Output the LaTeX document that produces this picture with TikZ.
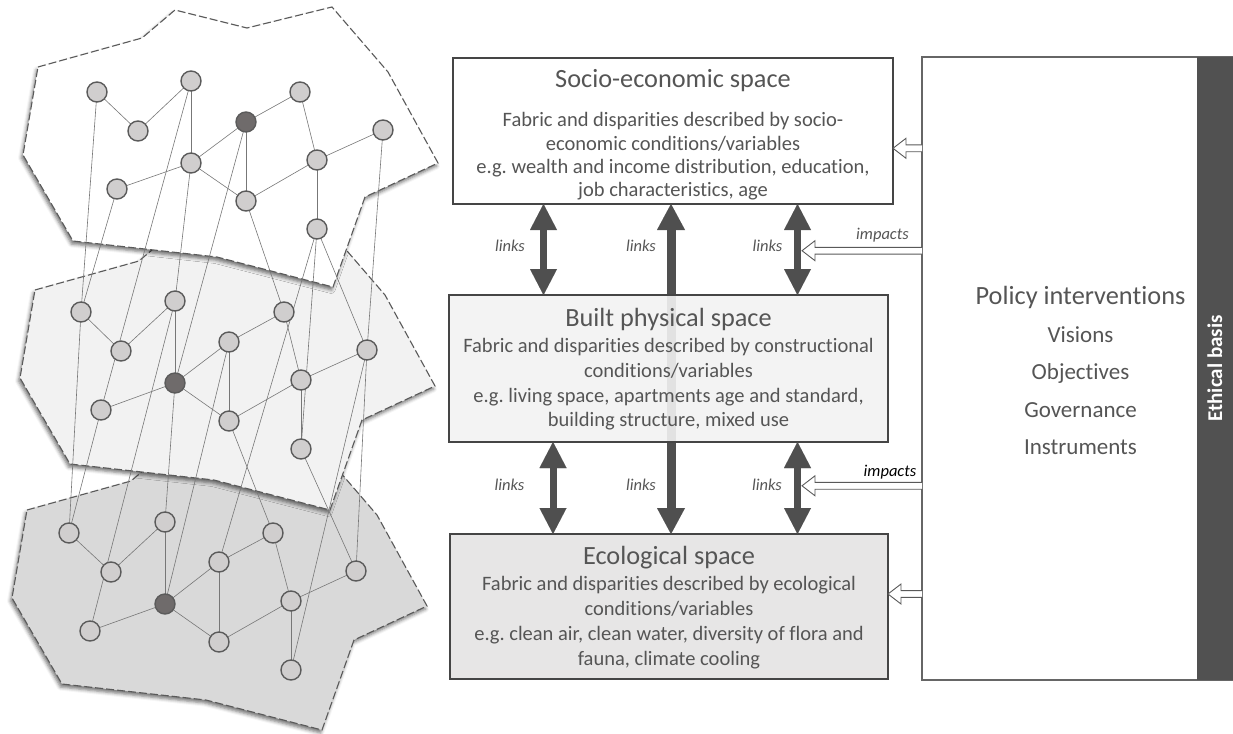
\documentclass[tikz,border=0pt]{standalone}
\usepackage{fontspec}
\setmainfont{Carlito}[Ligatures=NoCommon]
\frenchspacing
\usetikzlibrary{arrows.meta,calc,shadows.blur}

\pgfdeclarelayer{planes}
\pgfdeclarelayer{wires}
\pgfsetlayers{planes,wires,main}

\definecolor{txt}{HTML}{555555}
\definecolor{linkc}{HTML}{4F4F4F}
\definecolor{band}{HTML}{515151}
\definecolor{planeedge}{HTML}{5A5A5A}
\definecolor{wire}{HTML}{777777}
\definecolor{nodefill}{HTML}{D0CECE}
\definecolor{nodedark}{HTML}{6F6B6B}
\definecolor{nodeedge}{HTML}{5B5B5B}
\definecolor{midfill}{HTML}{F2F2F2}
\definecolor{lowfill}{HTML}{D9D9D9}
\definecolor{boxedge}{HTML}{454545}
\definecolor{builtfill}{HTML}{F2F2F2}
\definecolor{ecofill}{HTML}{E7E6E6}
\definecolor{impactedge}{HTML}{595959}
\definecolor{policyedge}{HTML}{666666}

% one dashed plane of the layered network, shifted by (#1,#2), filled with #3
\newcommand{\planeat}[3]{%
  \path[plane, fill=#3, shift={(#1,#2)}]
    (38,67) -- (142,38) -- (175,10) -- (247,28) -- (332,7) -- (388,72)
    -- (438,163) -- (365,197) -- (333,287) -- (217,257) -- (73,241)
    -- (23,155) -- cycle;}

% open block arrow from #1 (on the policy box) to the tip #2
\newcommand{\impactarrow}[2]{%
  \path[impact] ($(#1)+(0,-3.4)$) -- ($(#2)+(13,-3.4)$) -- ($(#2)+(13,-10)$)
    -- (#2) -- ($(#2)+(13,10)$) -- ($(#2)+(13,3.4)$) -- ($(#1)+(0,3.4)$);}

\tikzset{
  plane/.style={draw=planeedge, line width=1.1pt, dash pattern=on 8pt off 3pt,
    blur shadow={shadow xshift=-1.5pt, shadow yshift=-3pt,
      shadow blur radius=3.5pt, shadow opacity=55}},
  dot/.style={circle, draw=nodeedge, line width=1.4pt, fill=nodefill,
    minimum size=20pt, inner sep=0pt},
  darkdot/.style={dot, fill=nodedark},
  wire/.style={draw=wire, line width=0.6pt},
  spacebox/.style={draw=boxedge, line width=1.4pt, inner sep=0pt, outer sep=0pt,
    anchor=north west},
  title/.style={text=txt, font=\fontsize{26.3}{30}\selectfont, anchor=base, inner sep=0pt},
  body/.style={text=txt, font=\fontsize{20.5}{24}\selectfont, anchor=base, inner sep=0pt},
  item/.style={text=txt, font=\fontsize{23}{27}\selectfont, anchor=base, inner sep=0pt},
  linklabel/.style={text=txt, font=\fontsize{16.5}{20}\selectfont\itshape, anchor=base, inner sep=0pt},
  link/.style={draw=linkc, line width=7pt,
    {Triangle[width=27pt,length=26pt,line width=0.01pt]}-{Triangle[width=27pt,length=26pt,line width=0.01pt]}},
  biglink/.style={draw=linkc, line width=9pt,
    {Triangle[width=28pt,length=26pt,line width=0.01pt]}-{Triangle[width=28pt,length=26pt,line width=0.01pt]}},
  impact/.style={draw=impactedge, fill=white, line width=0.9pt, line join=miter},
}

\begin{document}
\begin{tikzpicture}[x=1pt, y=-1pt]
\useasboundingbox (0,0) rectangle (1233,733);

% ---------- layered network ----------
\begin{pgfonlayer}{planes}
  \planeat{-11}{443}{lowfill}
  \planeat{-3}{223}{midfill}
  \planeat{0}{0}{white}
\end{pgfonlayer}

\foreach \n/\x/\y/\s in {1/97/92/dot, 2/138/131/dot, 3/191/81/dot, 4/246/122/darkdot,
  5/300/92/dot, 6/383/130/dot, 7/191/163/dot, 8/117/189/dot, 9/246/201/dot,
  10/317/160/dot, 11/317/229/dot}
  \node[\s] (t\n) at (\x,\y) {};
\foreach \n/\x/\y/\s in {1/81/312/dot, 2/121/351/dot, 3/175/301/dot, 4/229/342/dot,
  5/284/312/dot, 6/367/350/dot, 7/175/383/darkdot, 8/101/410/dot, 9/229/421/dot,
  10/301/380/dot, 11/301/449/dot}
  \node[\s] (m\n) at (\x,\y) {};
\foreach \n/\x/\y/\s in {1/69/533/dot, 2/111/572/dot, 3/165/522/dot, 4/219/562/dot,
  5/273/533/dot, 6/356/571/dot, 7/165/604/darkdot, 8/90/631/dot, 9/219/642/dot,
  10/291/601/dot, 11/291/670/dot}
  \node[\s] (b\n) at (\x,\y) {};

\begin{pgfonlayer}{wires}
  \foreach \l in {t,m,b}
    \foreach \a/\b in {1/2,2/3,3/7,4/7,4/5,4/9,7/8,7/9,9/10,10/6,5/10,10/11}
      \draw[wire] (\l\a.center) -- (\l\b.center);
  \foreach \a/\b in {t1/m1,t8/m1,t3/m8,t7/m3,t4/m7,t9/m5,t11/m6,t11/m11,t6/m6,t11/b4,
    m1/b1,m8/b1,m3/b8,m7/b3,m4/b7,m9/b5,m11/b6,m6/b6,m6/b11}
    \draw[wire] (\a.center) -- (\b.center);
\end{pgfonlayer}

% ---------- the three spaces ----------
\node[spacebox, fill=white, minimum width=440pt, minimum height=146pt] (se) at (453,58) {};
\node[spacebox, fill=ecofill, minimum width=438pt, minimum height=145pt] (eco) at (450,534) {};

\coordinate (colL1) at (543.5,0);
\coordinate (colL2) at (553,0);
\coordinate (colM) at (671,0);
\coordinate (colR) at (797.5,0);

% the central link runs behind the built space
\draw[biglink] (colM |- se.south) -- (colM |- eco.north);

\node[spacebox, fill=builtfill, fill opacity=0.9, minimum width=439pt, minimum height=147pt] (bp) at (449,295) {};

\draw[link] (colL1 |- se.south) -- (colL1 |- bp.north);
\draw[link] (colR |- se.south) -- (colR |- bp.north);
\draw[link] (colL2 |- bp.south) -- (colL2 |- eco.north);
\draw[link] (colR |- bp.south) -- (colR |- eco.north);

\node[linklabel] (lk1) at (510,251) {links};
\node[linklabel] (lk2) at (641,251) {links};
\node[linklabel] (lk3) at (767.5,251) {links};
\node[linklabel] (lk4) at (509.5,490) {links};
\node[linklabel] (lk5) at (641,490) {links};
\node[linklabel] (lk6) at (767,490) {links};

% texts of the spaces
\node[title] (set) at (673,88) {Socio-economic space};
\node[body] (se1) at (673,126.7) {Fabric and disparities described by socio-};
\node[body] (se2) at (673,150) {economic conditions/variables};
\node[body] (se3) at (673,173.3) {e.g. wealth and income distribution, education,};
\node[body] (se4) at (673,196.7) {job characteristics, age};

\node[title] (bpt) at (668.5,326) {Built physical space};
\node[body] (bp1) at (668.5,352.7) {Fabric and disparities described by constructional};
\node[body] (bp2) at (668.5,377.3) {conditions/variables};
\node[body] (bp3) at (668.5,402) {e.g. living space, apartments age and standard,};
\node[body] (bp4) at (668.5,426.7) {building structure, mixed use};

\node[title] (ecot) at (669,564) {Ecological space};
\node[body] (eco1) at (669,590) {Fabric and disparities described by ecological};
\node[body] (eco2) at (669,615) {conditions/variables};
\node[body] (eco3) at (669,640) {e.g. clean air, clean water, diversity of flora and};
\node[body] (eco4) at (669,665) {fauna, climate cooling};

% ---------- policy side ----------
\node[anchor=north west, draw=policyedge, line width=1.4pt, fill=white,
  minimum width=310pt, minimum height=623pt, inner sep=0pt, outer sep=0pt] (pol) at (922,57) {};
\node[anchor=north west, fill=band, minimum width=35.5pt, minimum height=623pt,
  inner sep=0pt, outer sep=0pt] (eth) at (1197,57) {};
\node[rotate=90, text=white, font=\bfseries\fontsize{21}{25}\selectfont] (ethtxt) at (eth.center) {Ethical basis};

\node[title] (polt) at (1080.5,304) {Policy interventions};
\node[item] (pol1) at (1080.5,342) {Visions};
\node[item] (pol2) at (1080.5,379) {Objectives};
\node[item] (pol3) at (1080.5,417) {Governance};
\node[item] (pol4) at (1080.5,454) {Instruments};

% impact arrows
\coordinate (r1) at (0,148.3);
\coordinate (r2) at (0,250.7);
\coordinate (r3) at (0,485.8);
\coordinate (r4) at (0,594);
\coordinate (tip2) at ($(colR |- r2)+(4.5,0)$);
\coordinate (tip3) at ($(colR |- r3)+(4.5,0)$);

\impactarrow{pol.west |- r1}{se.east |- r1}
\impactarrow{pol.west |- r2}{tip2}
\impactarrow{pol.west |- r3}{tip3}
\impactarrow{pol.west |- r4}{eco.east |- r4}

\node[linklabel] (imp1) at (882.5,239.3) {impacts};
\node[linklabel, text=black] (imp2) at (890,476) {impacts};

\end{tikzpicture}
\end{document}
